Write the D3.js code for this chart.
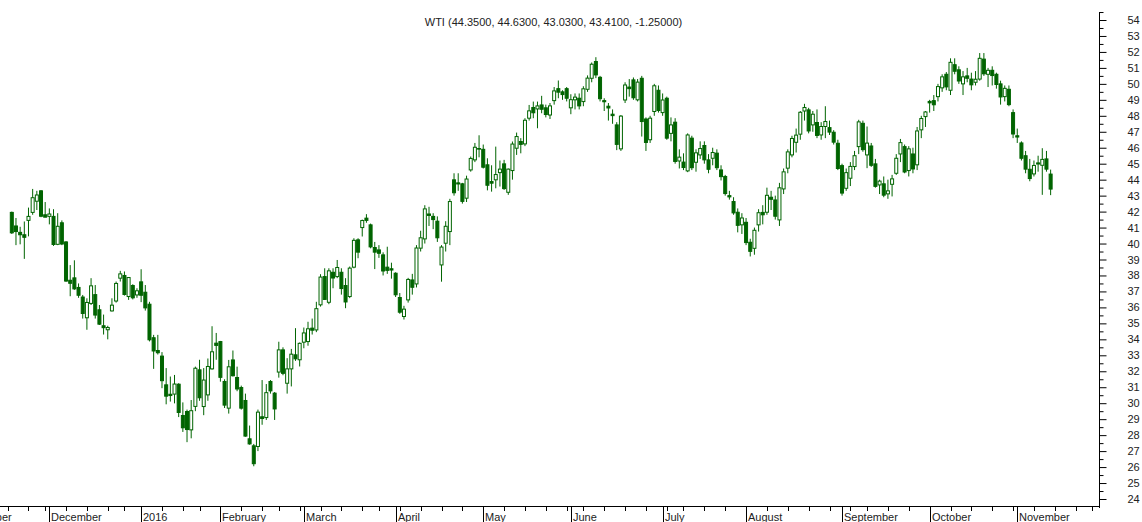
<!DOCTYPE html>
<html><head><meta charset="utf-8">
<script src="https://cdn.jsdelivr.net/npm/d3@7"></script>
<style>html,body{margin:0;padding:0;background:#fff;}svg{display:block;}</style>
</head><body>
<svg id="c" width="1142" height="522"></svg>
<script>
// ---- DATA (WTI daily OHLC, 17 Nov 2015 – 11 Nov 2016) ----
const title = "WTI (44.3500, 44.6300, 43.0300, 43.4100, -1.25000)";
const firstDay = "2015-11-17";
const holidays = ["2015-11-26","2015-12-25","2016-01-01","2016-01-18","2016-02-15","2016-03-25","2016-05-30","2016-07-04","2016-09-05","2016-11-24"];
const monthLabels = ["2016","February","March","April","May","June","July","August","September","October","November","December"];
const yTicks = d3.range(24, 55, 1);

const open = [
41.95,41.1,40.7,40.55,41.45,41.95,42.65,43.3,41.8,
41.7,41.7,39.95,41.3,40.1,37.7,37.85,37.25,36.65,35.35,36.25,36.8,35.85,34.85,34.6,35.78,36.4,37.83,38.0,36.68,37.37,36.78,
37.6,36.95,36.2,34.1,33.3,32.95,31.15,30.56,30.57,31.19,29.23,29.48,28.33,29.8,32.09,29.79,30.52,32.15,33.76,
33.86,31.36,29.69,32.71,31.61,30.98,30.17,27.77,27.33,27.29,29.15,29.1,31.36,30.63,31.95,33.34,31.25,32.15,33.03,32.72,
33.82,33.86,34.7,34.59,36.16,37.93,36.32,38.2,37.93,38.2,37.37,36.68,38.52,40.23,41.0,41.59,41.17,39.75,39.6,39.29,38.52,38.42,
38.14,36.62,35.43,36.47,37.72,37.47,39.71,40.29,41.85,41.7,41.4,38.66,40.02,40.75,43.99,43.8,43.74,42.84,44.61,45.24,45.95,
45.9,44.93,43.88,43.99,44.44,44.99,43.21,44.57,45.97,46.39,46.24,47.85,48.52,48.43,48.68,48.5,48.05,48.95,49.7,49.5,49.7,
48.5,49.0,49.1,48.89,49.66,50.35,51.4,50.41,48.95,48.6,48.1,47.43,45.93,48.99,49.8,50.25,49.0,50.35,47.8,46.5,48.27,49.6,
48.2,49.1,46.9,47.6,45.17,45.1,44.55,46.6,45.09,45.55,46.14,45.24,45.34,45.66,44.61,44.2,43.0,42.63,41.96,41.17,
41.33,40.08,39.7,41.17,41.95,41.96,42.9,42.73,41.48,43.42,44.72,45.55,46.34,46.85,48.3,48.37,47.43,47.58,46.8,47.33,47.26,46.97,46.28,
44.88,43.46,44.09,44.82,46.07,47.53,45.55,46.11,44.99,43.67,43.74,43.11,43.71,44.4,45.61,46.07,44.57,45.61,44.93,47.12,47.95,
48.9,48.95,49.2,49.75,50.6,49.6,51.2,50.88,50.0,50.5,50.3,50.1,50.3,51.55,50.6,50.85,50.6,50.0,49.2,49.66,48.2,
46.75,46.3,45.5,44.65,44.36,45.05,44.9,45.3,44.35];

const high = [
42.0,41.6,41.05,41.38,42.25,43.42,43.3,43.35,42.6,
42.2,42.15,41.9,41.45,40.15,38.65,38.95,37.5,36.78,36.57,37.83,37.4,36.15,35.55,34.85,36.57,37.62,38.29,38.25,37.87,37.45,37.2,
38.39,37.4,36.35,34.28,34.28,33.2,32.2,31.67,31.77,31.25,30.05,29.6,30.2,32.29,32.72,32.2,32.8,34.82,34.4,
33.9,31.5,32.71,33.3,32.29,31.1,30.6,28.6,27.45,29.6,31.45,31.2,31.45,30.7,33.85,33.5,32.82,33.4,34.7,33.8,
34.74,35.1,35.3,36.35,38.08,38.45,38.45,38.45,38.97,38.45,37.83,38.56,40.33,40.33,41.5,41.84,41.25,40.1,39.9,39.45,39.8,38.8,
38.2,36.9,36.1,37.85,38.1,39.9,40.8,42.4,42.3,41.9,41.7,39.9,41.4,42.8,44.4,44.4,43.8,44.25,45.45,46.3,46.78,
46.2,45.34,44.9,46.07,45.2,45.24,44.7,46.39,46.95,46.6,47.85,48.68,48.89,48.89,49.25,48.7,48.8,49.8,50.21,49.6,49.8,
49.35,49.4,49.4,49.85,50.53,51.34,51.67,50.5,49.1,48.8,48.4,47.6,48.05,50.1,50.3,50.4,50.3,50.5,47.9,48.0,50.0,49.9,
49.4,49.2,47.9,47.85,45.9,45.65,46.9,46.75,45.9,46.4,46.4,45.6,46.0,45.9,44.9,44.3,43.3,42.9,42.2,41.9,
41.6,40.3,41.0,42.15,42.4,43.5,43.3,43.0,43.8,44.7,45.9,46.75,47.2,48.3,48.75,48.5,48.3,48.4,47.6,48.6,47.7,47.1,46.5,
45.0,44.7,45.1,45.8,47.75,47.7,47.33,46.3,45.3,44.0,44.2,44.0,44.3,45.6,46.55,46.2,46.1,46.0,47.3,48.0,48.3,
49.0,49.3,50.0,50.6,50.74,51.6,51.6,51.1,50.8,51.0,50.7,50.8,51.93,51.93,51.0,51.1,50.7,50.2,49.9,49.9,48.4,
47.2,46.4,45.8,45.3,45.2,45.5,45.97,45.8,44.63];

const low = [
40.6,39.9,39.95,39.04,40.45,41.8,42.1,41.65,41.65,
41.2,39.85,39.9,39.9,37.6,36.7,37.1,36.6,35.3,34.6,36.15,35.3,34.9,34.3,34.0,35.74,36.3,37.62,36.74,36.47,36.5,36.6,
36.33,35.8,33.87,32.15,33.05,30.94,29.93,30.1,29.99,29.13,28.2,27.56,27.8,29.5,30.15,29.25,30.15,32.1,32.72,
31.35,29.7,29.35,31.67,30.75,29.6,27.9,27.4,26.05,27.0,28.65,28.95,30.6,28.95,31.6,31.75,30.6,31.05,32.65,32.3,
33.44,33.6,34.3,34.45,36.05,36.47,36.2,37.2,37.83,36.8,35.95,36.58,38.45,39.08,40.44,41.3,39.7,38.4,39.1,38.0,38.1,37.8,
36.65,35.6,35.24,36.3,36.8,37.25,39.5,40.0,41.1,40.9,40.1,37.61,39.5,39.9,43.0,43.3,42.5,42.6,44.5,45.1,45.4,
44.7,43.33,43.25,43.46,43.57,43.36,43.05,44.0,45.55,45.65,46.1,47.7,47.85,47.22,48.16,47.9,47.8,48.7,49.1,49.0,48.9,
48.1,48.4,48.4,48.6,49.5,50.1,50.36,48.9,48.3,47.7,47.5,45.85,45.8,48.8,49.2,49.0,48.9,46.7,45.8,46.3,48.0,48.2,
48.0,46.5,46.4,45.0,44.7,44.6,44.47,44.6,44.5,45.3,45.0,44.4,44.9,44.6,43.95,43.0,42.75,41.8,40.7,40.6,
39.9,39.19,39.3,40.75,41.2,41.8,42.1,41.5,41.1,43.1,44.4,45.4,45.7,46.5,47.7,46.9,47.0,46.6,46.5,46.6,46.8,46.2,44.6,
43.0,43.3,43.6,44.6,45.6,45.75,44.72,44.8,43.5,43.1,42.9,42.8,42.95,44.3,45.1,44.4,44.2,44.4,44.6,46.6,47.3,
48.2,48.3,48.9,49.5,49.6,49.3,50.6,50.0,49.3,50.1,49.6,49.9,50.2,50.5,49.8,49.9,49.7,48.7,48.9,48.6,46.6,
46.3,45.2,44.4,43.9,44.2,44.5,43.05,44.5,43.03];

const close = [
40.67,40.75,40.55,40.39,41.7,42.87,43.04,41.71,41.65,
41.85,39.94,41.08,39.97,37.65,37.51,37.16,36.76,35.62,36.31,37.35,35.52,34.95,34.73,34.74,36.14,37.5,38.1,36.81,37.87,36.6,37.04,
36.76,35.97,33.97,33.27,33.16,31.41,30.44,30.48,31.2,29.42,28.46,28.35,29.53,32.19,30.34,31.45,32.3,33.22,33.62,
31.62,29.88,32.28,31.72,30.89,29.69,27.94,27.45,26.21,29.44,29.04,30.66,30.77,29.64,33.34,31.87,32.15,33.07,32.78,33.75,
34.40,34.66,34.57,35.92,37.90,36.50,38.29,37.84,38.50,37.18,36.34,38.46,40.20,39.46,41.44,41.45,39.79,39.46,39.39,38.28,38.32,38.34,
36.79,35.70,35.89,37.75,37.26,39.72,40.36,42.17,41.76,41.50,40.36,39.78,41.08,42.63,43.18,43.73,42.64,44.04,45.33,46.03,45.92,
44.78,43.65,43.78,44.32,44.66,43.44,44.66,46.23,46.70,46.21,47.72,48.31,48.19,48.62,48.41,48.08,48.62,49.56,49.48,49.33,49.10,
49.01,49.17,48.62,49.69,50.36,51.23,50.56,49.07,48.88,48.49,48.01,46.21,47.98,49.93,49.7,49.13,50.11,47.64,46.33,47.85,49.88,48.33,
48.99,46.60,47.43,45.14,45.41,44.76,46.80,44.75,45.68,45.95,45.24,44.65,45.7,44.75,44.19,43.13,42.92,41.92,41.14,41.60,
40.06,39.51,40.83,41.93,41.80,43.02,42.77,41.71,43.49,44.49,45.74,46.58,46.79,48.22,48.52,47.05,48.10,46.77,47.33,47.64,46.98,46.35,44.70,
43.16,44.44,44.83,45.50,47.62,45.88,46.29,44.90,43.58,43.91,43.03,43.30,44.05,45.34,46.32,44.48,45.93,44.67,47.05,47.83,48.24,
48.81,48.69,49.83,50.44,49.81,51.35,50.79,50.18,50.44,50.35,49.94,50.29,51.60,50.63,50.85,50.52,49.96,49.18,49.72,48.70,46.86,
46.67,45.34,44.66,44.07,44.89,44.98,45.27,44.66,43.41];

// ---- LAYOUT ----
const W = 1142, H = 522;
const axisX = 1099, axisY = 506;
const green = "#006400";
const font = "'Liberation Sans', Arial, Helvetica, sans-serif";

const svg = d3.select("#c");
svg.append("rect").attr("width", W).attr("height", H).attr("fill", "#fff");

const n = close.length;
const step = 4.172;
const x = d3.scaleLinear().domain([0, n - 1]).range([11.8, 11.8 + step * (n - 1)]);
const y = d3.scaleLinear().domain([24, 54]).range([499, 20]);

// trading calendar (for the time axis)
const fmt = d3.timeFormat("%Y-%m-%d");
const hol = new Set(holidays);
const cal = d3.timeDay.range(new Date(2015, 10, 2), new Date(2016, 11, 1))
  .filter(d => d.getDay() !== 0 && d.getDay() !== 6 && !hol.has(fmt(d)));
const offset = cal.findIndex(d => fmt(d) === firstDay);

// title
svg.append("text").attr("x", 553.5).attr("y", 26).attr("text-anchor", "middle")
  .attr("font-family", font).attr("font-size", 11).attr("fill", "#222").text(title);

// candles
const idx = d3.range(n);
const g = svg.append("g");
g.selectAll("line.w").data(idx).join("line").attr("class", "w")
  .attr("x1", i => x(i)).attr("x2", i => x(i))
  .attr("y1", i => y(Math.max(high[i], open[i], close[i])))
  .attr("y2", i => y(Math.min(low[i], open[i], close[i])))
  .attr("stroke", green).attr("stroke-width", 1);
g.selectAll("rect.b").data(idx).join("rect").attr("class", "b")
  .attr("x", i => x(i) - 1.5).attr("width", 3)
  .attr("y", i => y(Math.max(open[i], close[i])))
  .attr("height", i => Math.max(0.6, Math.abs(y(open[i]) - y(close[i]))))
  .attr("fill", i => close[i] >= open[i] ? "#fff" : green)
  .attr("stroke", green).attr("stroke-width", 1);

// right axis
const ya = svg.append("g").attr("transform", `translate(${axisX + 0.5},0)`);
ya.call(d3.axisRight(y).tickValues(yTicks).tickSize(7).tickSizeOuter(0).tickPadding(21).tickFormat(d3.format("d")));
ya.append("g").call(d3.axisRight(y).tickValues(d3.range(24.5, 55, 1)).tickSize(4).tickSizeOuter(0).tickFormat(""));
ya.selectAll(".domain").remove();
ya.selectAll("line").attr("stroke", "#000");
ya.selectAll("text").attr("font-family", font).attr("font-size", 11).attr("fill", "#222");
ya.append("line").attr("x1", 0).attr("x2", 0).attr("y1", 12).attr("y2", axisY + 2).attr("stroke", "#000");

// bottom axis
const xa = svg.append("g");
xa.append("line").attr("x1", 0).attr("x2", axisX + 0.5).attr("y1", axisY + 0.5).attr("y2", axisY + 0.5).attr("stroke", "#000");
const weekTicks = [], monthTicks = [];
cal.forEach((d, j) => {
  const k = j - offset;
  const px = x(k);
  if (px > axisX + 1) return;
  const prev = cal[j - 1];
  if (!prev || prev.getMonth() !== d.getMonth()) monthTicks.push({px, m: d.getMonth(), yr: d.getFullYear()});
  else if (d3.timeMonday.floor(prev).getTime() !== d3.timeMonday.floor(d).getTime()) weekTicks.push(px);
});
xa.selectAll("line.wk").data(weekTicks).join("line").attr("class", "wk")
  .attr("x1", d => Math.round(d) + 0.5).attr("x2", d => Math.round(d) + 0.5)
  .attr("y1", axisY).attr("y2", axisY + 5).attr("stroke", "#000");
xa.selectAll("line.mo").data(monthTicks).join("line").attr("class", "mo")
  .attr("x1", d => Math.round(d.px) + 0.5).attr("x2", d => Math.round(d.px) + 0.5)
  .attr("y1", axisY).attr("y2", H).attr("stroke", "#000");
const monthName = ["January","February","March","April","May","June","July","August","September","October","November","December"];
xa.selectAll("text").data(monthTicks).join("text")
  .attr("x", d => Math.round(d.px) + (d.px < 0 ? -5 : 2)).attr("y", 521)
  .attr("font-family", font).attr("font-size", 11).attr("fill", "#222")
  .text(d => d.m === 0 ? String(d.yr) : (monthLabels[d.m] || monthName[d.m]));
</script>
</body></html>
